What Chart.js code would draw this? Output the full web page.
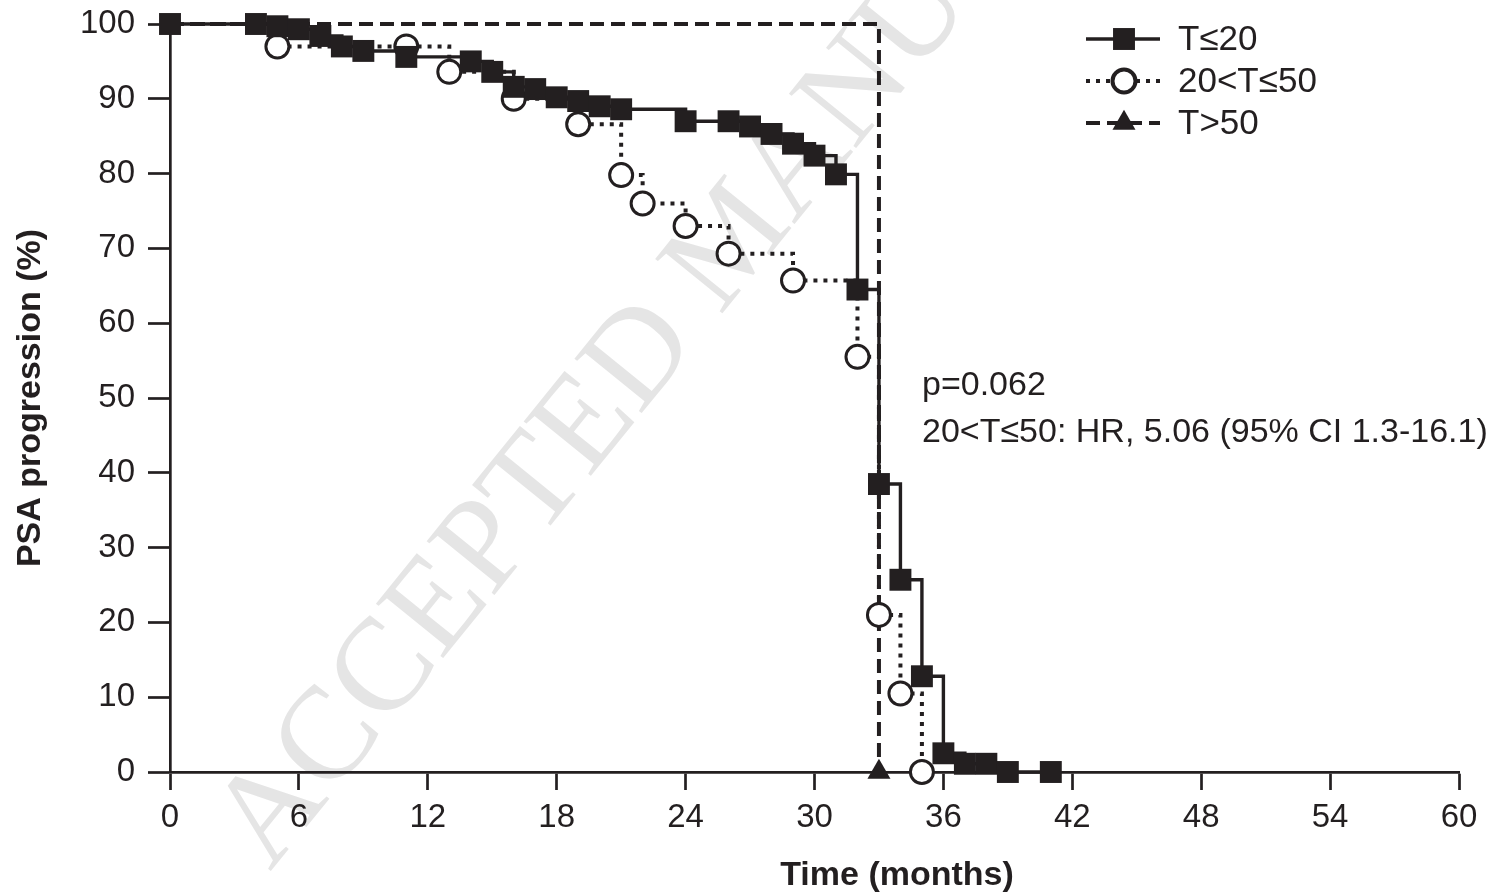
<!DOCTYPE html>
<html>
<head>
<meta charset="utf-8">
<title>PSA progression</title>
<script src="https://cdn.jsdelivr.net/npm/chart.js@4.4.1/dist/chart.umd.min.js"></script>
<style>
  html, body { margin: 0; padding: 0; background: #fff; }
  #wrap { width: 1500px; height: 894px; }
</style>
</head>
<body>
<div id="wrap"><canvas id="kmChart" width="1500" height="894"></canvas></div>
<script>
// values (months, % without PSA progression)
const monthsT20 = [0, 4, 5, 6, 7, 8, 9, 11, 14, 15, 16, 17, 18, 19, 20, 21, 24, 26, 27, 28, 29, 30, 31, 32, 33, 34, 35, 36, 37, 38, 39, 41];
const psaT20 = [100, 100, 99.7, 99.3, 98.4, 97, 96.4, 95.6, 95, 93.6, 91.6, 91.3, 90.2, 89.7, 89, 88.6, 87, 87, 86.3, 85.3, 84, 82.4, 79.9, 64.5, 38.5, 25.7, 12.8, 2.5, 1.1, 1.1, 0, 0];

const monthsT20to50 = [0, 5, 11, 13, 16, 19, 21, 22, 24, 26, 29, 32, 33, 34, 35];
const psaT20to50 = [100, 97, 97, 93.6, 90, 86.6, 79.8, 76, 73, 69.3, 65.7, 55.5, 21, 10.5, 0];

const monthsT50 = [0, 33];
const psaT50 = [100, 0];

const seriesLabels = ['T≤20', '20<T≤50', 'T>50'];
const xTickValues = [0, 6, 12, 18, 24, 30, 36, 42, 48, 54, 60];
const annotationLines = ['p=0.062', '20<T≤50: HR, 5.06 (95% CI 1.3-16.1)'];
const xTitle = 'Time (months)';
const yTitle = 'PSA progression (%)';

const ink = '#231f20';
const fontFamily = '"Liberation Sans", Arial, Helvetica, sans-serif';

function toPoints(xs, ys) {
    return xs.map(function(x, i) { return { x: x, y: ys[i] }; });
}

// marker sizes used both on the plot and in the legend
const markerRadius = { rect: 15.5, circle: 11.5, triangle: 13.3 };

/**
 * Legend drawn like the original: line sample with marker in the middle
 */
const lineLegend = {
    id: 'lineLegend',
    afterDatasetsDraw(chart) {
        const ctx = chart.ctx;
        chart.data.datasets.forEach(function(ds, i) {
            const y = 39 + i * 42;
            ctx.save();
            ctx.strokeStyle = ds.borderColor;
            ctx.lineWidth = ds.borderWidth;
            ctx.setLineDash(ds.borderDash || []);
            ctx.beginPath();
            ctx.moveTo(1086, y);
            ctx.lineTo(1160, y);
            ctx.stroke();
            ctx.setLineDash([]);
            ctx.fillStyle = ds.pointBackgroundColor;
            ctx.strokeStyle = ds.pointBorderColor;
            Chart.helpers.drawPoint(ctx, {
                pointStyle: ds.pointStyle,
                radius: markerRadius[ds.pointStyle],
                borderWidth: ds.pointBorderWidth,
                rotation: 0
            }, 1124, y);
            ctx.fillStyle = ink;
            ctx.font = '35px ' + fontFamily;
            ctx.textBaseline = 'middle';
            ctx.textAlign = 'left';
            ctx.fillText(ds.label, 1178, y + 1);
            ctx.restore();
        });
    }
};

/**
 * p-value / hazard ratio note, plus the x title (sits right of centre in the original)
 */
const notes = {
    id: 'notes',
    afterDatasetsDraw(chart) {
        const ctx = chart.ctx;
        ctx.save();
        ctx.fillStyle = ink;
        ctx.font = '34px ' + fontFamily;
        ctx.textBaseline = 'middle';
        ctx.textAlign = 'left';
        annotationLines.forEach(function(line, i) {
            ctx.fillText(line, 922, 386 + i * 47);
        });
        ctx.font = 'bold 34px ' + fontFamily;
        ctx.textAlign = 'center';
        ctx.fillText(xTitle, 897, 876);
        ctx.restore();
    }
};

/**
 * Faint diagonal watermark, drawn first so axes and curves sit on top
 */
const watermark = {
    id: 'watermark',
    beforeDraw(chart) {
        const ctx = chart.ctx;
        ctx.save();
        ctx.translate(270, 872);
        ctx.rotate(-51 * Math.PI / 180);
        ctx.font = '132px "Liberation Serif", "Times New Roman", serif';
        ctx.fillStyle = '#e5e5e5';
        ctx.fillText('ACCEPTED MANUSCRIPT', 0, 0);
        ctx.restore();
    }
};

const ctx = document.getElementById('kmChart');

new Chart(ctx, {
    type: 'line',
    data: {
        datasets: [{
            label: seriesLabels[0],
            data: toPoints(monthsT20, psaT20),
            stepped: true,
            borderColor: ink,
            borderWidth: 3.4,
            pointStyle: 'rect',
            pointRadius: markerRadius.rect,
            pointBackgroundColor: ink,
            pointBorderColor: ink,
            pointBorderWidth: 0,
            clip: false
        }, {
            label: seriesLabels[1],
            data: toPoints(monthsT20to50, psaT20to50),
            stepped: true,
            borderColor: ink,
            borderWidth: 4,
            borderDash: [4, 6],
            pointStyle: 'circle',
            pointRadius: function(c) { return c.dataIndex === 0 ? 0 : markerRadius.circle; },
            pointBackgroundColor: '#ffffff',
            pointBorderColor: ink,
            pointBorderWidth: 3,
            clip: false
        }, {
            label: seriesLabels[2],
            data: toPoints(monthsT50, psaT50),
            stepped: true,
            borderColor: ink,
            borderWidth: 4,
            borderDash: [14, 7],
            pointStyle: 'triangle',
            pointRadius: function(c) { return c.dataIndex === 0 ? 0 : markerRadius.triangle; },
            pointBackgroundColor: ink,
            pointBorderColor: ink,
            pointBorderWidth: 0,
            clip: false
        }]
    },
    options: {
        responsive: false,
        animation: false,
        devicePixelRatio: 1,
        layout: {
            padding: { top: 24, right: 41, left: 0, bottom: 0 }
        },
        plugins: {
            legend: { display: false },
            tooltip: { enabled: false }
        },
        scales: {
            x: {
                type: 'linear',
                min: 0,
                max: 60,
                afterBuildTicks: function(scale) {
                    scale.ticks = xTickValues.map(function(v) { return { value: v }; });
                },
                afterFit: function(scale) { scale.height = 122; },
                border: { display: true, color: ink, width: 2.7 },
                grid: {
                    display: true,
                    drawOnChartArea: false,
                    drawTicks: true,
                    tickLength: 18,
                    tickColor: ink,
                    tickWidth: 2.7
                },
                ticks: {
                    autoSkip: false,
                    maxRotation: 0,
                    padding: 8,
                    color: ink,
                    font: { family: fontFamily, size: 33 }
                }
            },
            y: {
                min: 0,
                max: 100,
                afterFit: function(scale) {
                    scale.width = 170;
                    // let the layout padding alone decide where the plot starts
                    scale.paddingTop = 0;
                    scale.paddingBottom = 0;
                },
                border: { display: true, color: ink, width: 2.7 },
                grid: {
                    display: true,
                    drawOnChartArea: false,
                    drawTicks: true,
                    tickLength: 22,
                    tickColor: ink,
                    tickWidth: 2.7
                },
                ticks: {
                    stepSize: 10,
                    padding: 13,
                    color: ink,
                    font: { family: fontFamily, size: 33 }
                },
                title: {
                    display: true,
                    text: yTitle,
                    color: ink,
                    font: { family: fontFamily, size: 34, weight: 'bold', lineHeight: 1 },
                    padding: { top: 14, bottom: 0 }
                }
            }
        }
    },
    plugins: [watermark, lineLegend, notes]
});
</script>
</body>
</html>
